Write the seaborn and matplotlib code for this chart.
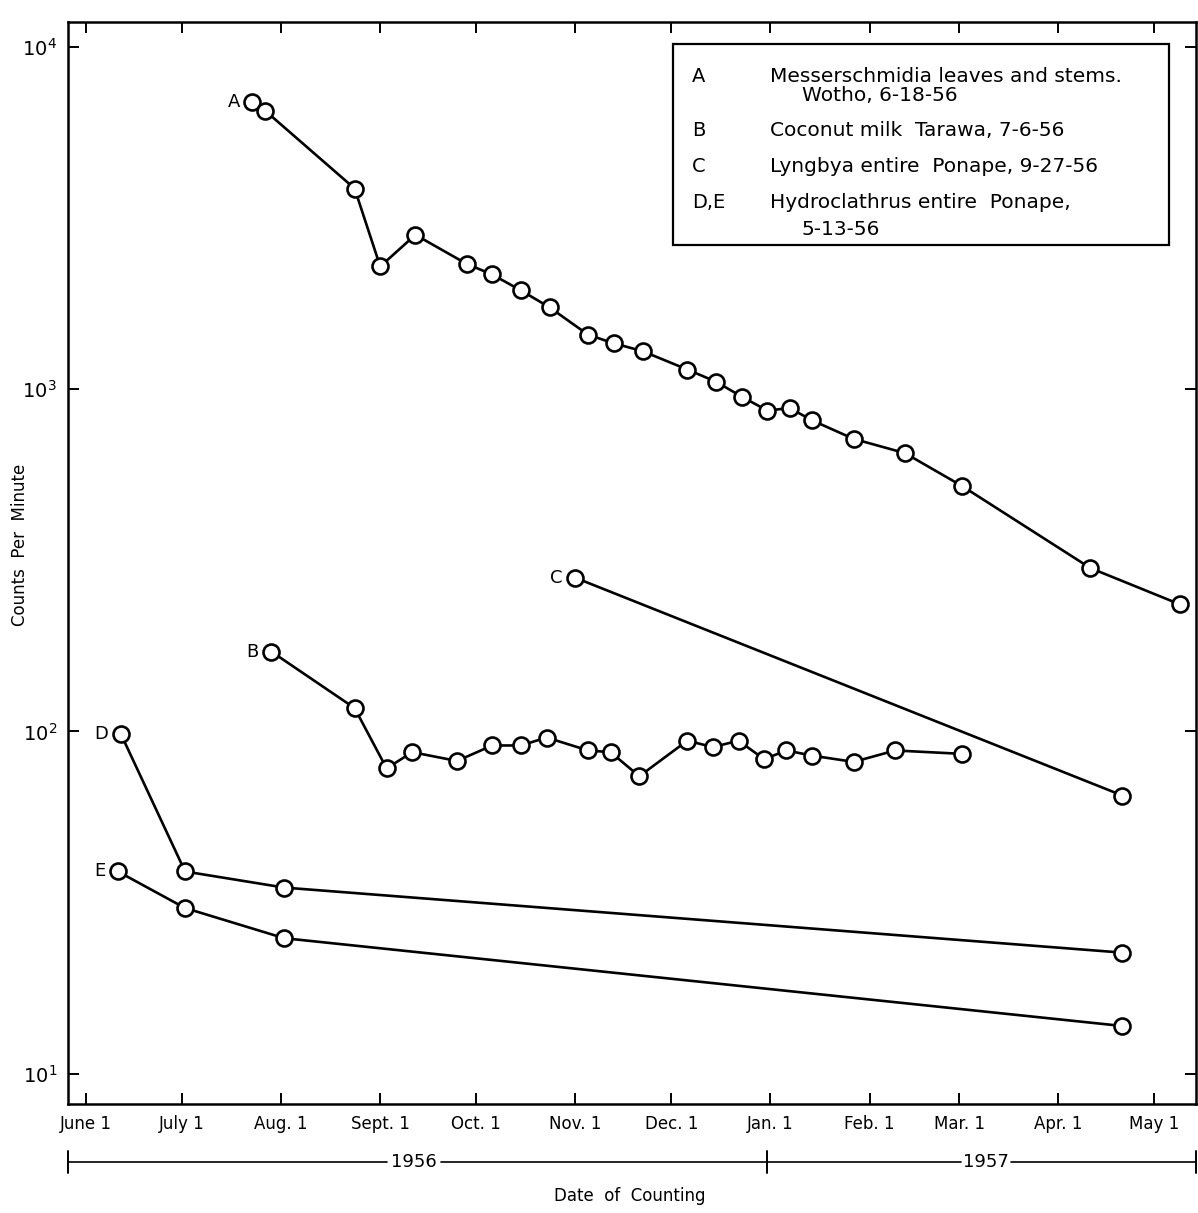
import pandas as pd
import seaborn as sns
import matplotlib.pyplot as plt
from matplotlib.ticker import NullLocator

# values (log scale, counts per minute)
a_dates = ["1956-07-23", "1956-07-27", "1956-08-24", "1956-09-01", "1956-09-12",
           "1956-09-28", "1956-10-06", "1956-10-15", "1956-10-24", "1956-11-05",
           "1956-11-13", "1956-11-22", "1956-12-06", "1956-12-15", "1956-12-23",
           "1956-12-31", "1957-01-07", "1957-01-14", "1957-01-27", "1957-02-12",
           "1957-03-02", "1957-04-11", "1957-05-09"]
a_counts = [6900, 6500, 3850, 2280, 2820, 2320, 2160, 1940, 1730, 1440, 1360, 1290,
            1140, 1050, 950, 865, 880, 810, 715, 650, 520, 300, 235]

b_dates = ["1956-07-29", "1956-08-24", "1956-09-03", "1956-09-11", "1956-09-25",
           "1956-10-06", "1956-10-15", "1956-10-23", "1956-11-05", "1956-11-12",
           "1956-11-21", "1956-12-06", "1956-12-14", "1956-12-22", "1956-12-30",
           "1957-01-06", "1957-01-14", "1957-01-27", "1957-02-09", "1957-03-02"]
b_counts = [171, 117, 78, 87, 82, 91, 91, 96, 88, 87, 74, 94, 90, 94, 83, 88, 85,
            81.5, 88, 86]

c_dates = ["1956-11-01", "1957-04-21"]
c_counts = [281, 65]

d_dates = ["1956-06-12", "1956-07-02", "1956-08-02", "1957-04-21"]
d_counts = [98, 39, 35, 22.6]

e_dates = ["1956-06-11", "1956-07-02", "1956-08-02", "1957-04-21"]
e_counts = [39, 30.5, 24.9, 13.8]

series_names = ["A", "B", "C", "D", "E"]
series_dates = [a_dates, b_dates, c_dates, d_dates, e_dates]
series_counts = [a_counts, b_counts, c_counts, d_counts, e_counts]

month_ticks = ["1956-06-01", "1956-07-01", "1956-08-01", "1956-09-01", "1956-10-01",
               "1956-11-01", "1956-12-01", "1957-01-01", "1957-02-01", "1957-03-01",
               "1957-04-01", "1957-05-01"]
month_labels = ["June 1", "July 1", "Aug. 1", "Sept. 1", "Oct. 1", "Nov. 1",
                "Dec. 1", "Jan. 1", "Feb. 1", "Mar. 1", "Apr. 1", "May 1"]

# legend rows: key, first line, second line
legend_keys = ["A", "B", "C", "D,E"]
legend_line1 = ["Messerschmidia leaves and stems.", "Coconut milk  Tarawa, 7-6-56",
                "Lyngbya entire  Ponape, 9-27-56", "Hydroclathrus entire  Ponape,"]
legend_line2 = ["Wotho, 6-18-56", "", "", "5-13-56"]

sns.set_style("ticks")
plt.rcParams["font.family"] = ["DejaVu Sans"]
plt.rcParams["text.color"] = "black"
plt.rcParams["axes.labelcolor"] = "black"
plt.rcParams["xtick.color"] = "black"
plt.rcParams["ytick.color"] = "black"

fig = plt.figure(figsize=(11.98, 12.13), dpi=100)
ax = fig.add_axes([0.0568, 0.0899, 0.9415, 0.892])

for name, dates, counts in zip(series_names, series_dates, series_counts):
    df = pd.DataFrame({"date": pd.to_datetime(dates), "cpm": counts})
    sns.lineplot(data=df, x="date", y="cpm", ax=ax, color="black", linewidth=1.9,
                 marker="o", markersize=11.5, markerfacecolor="white",
                 markeredgecolor="black", markeredgewidth=1.9,
                 sort=False, estimator=None)
    ax.annotate(name, (df["date"].iloc[0], df["cpm"].iloc[0]), xytext=(-9, 0),
                textcoords="offset points", ha="right", va="center", fontsize=13)

ax.set_yscale("log")
ax.set_ylim(8.17, 11800)
ax.yaxis.set_minor_locator(NullLocator())
ax.set_xlim(pd.Timestamp("1956-05-26 10:00"), pd.Timestamp("1957-05-14"))
ax.set_xticks(pd.to_datetime(month_ticks))
ax.set_xticklabels(month_labels, fontsize=12)
ax.xaxis.set_minor_locator(NullLocator())
ax.tick_params(axis="y", labelsize=14)
ax.tick_params(which="both", direction="in", top=True, right=True,
               length=8, width=1.4, pad=8)
for sp in ax.spines.values():
    sp.set_linewidth(1.8)
    sp.set_color("black")

ax.set_xlabel("")
ax.set_ylabel("Counts  Per  Minute", fontsize=12)
ax.yaxis.set_label_coords(-0.035, 0.517)

# legend box (drawn by hand like the original)
ax.add_patch(plt.Rectangle((0.5363, 0.7939), 0.4397, 0.1858, transform=ax.transAxes,
                           fill=False, edgecolor="black", linewidth=1.6, zorder=5))
row1_y = [0.950, 0.8993, 0.866, 0.8327]
row2_y = [0.9316, None, None, 0.8078]
for key, t1, t2, y1, y2 in zip(legend_keys, legend_line1, legend_line2, row1_y, row2_y):
    ax.text(0.553, y1, key, transform=ax.transAxes, ha="left", va="center", fontsize=14)
    ax.text(0.6223, y1, t1, transform=ax.transAxes, ha="left", va="center", fontsize=14.5)
    if y2 is not None:
        ax.text(0.6507, y2, t2, transform=ax.transAxes, ha="left", va="center", fontsize=14.5)

# year bracket under the axis
yb = -0.0536
ax.plot([0.0, 0.283], [yb, yb], transform=ax.transAxes, color="black", lw=1.2, clip_on=False)
ax.plot([0.331, 0.62], [yb, yb], transform=ax.transAxes, color="black", lw=1.2, clip_on=False)
ax.plot([0.62, 0.792], [yb, yb], transform=ax.transAxes, color="black", lw=1.2, clip_on=False)
ax.plot([0.836, 1.0], [yb, yb], transform=ax.transAxes, color="black", lw=1.2, clip_on=False)
for xb in [0.0, 0.62, 1.0]:
    ax.plot([xb, xb], [yb + 0.01, yb - 0.01], transform=ax.transAxes, color="black",
            lw=1.4, clip_on=False)
ax.text(0.307, yb, "1956", transform=ax.transAxes, ha="center", va="center", fontsize=13)
ax.text(0.814, yb, "1957", transform=ax.transAxes, ha="center", va="center", fontsize=13)
ax.text(0.498, -0.085, "Date  of  Counting", transform=ax.transAxes, ha="center",
        va="center", fontsize=12)

fig.savefig("out.png", dpi=100)
